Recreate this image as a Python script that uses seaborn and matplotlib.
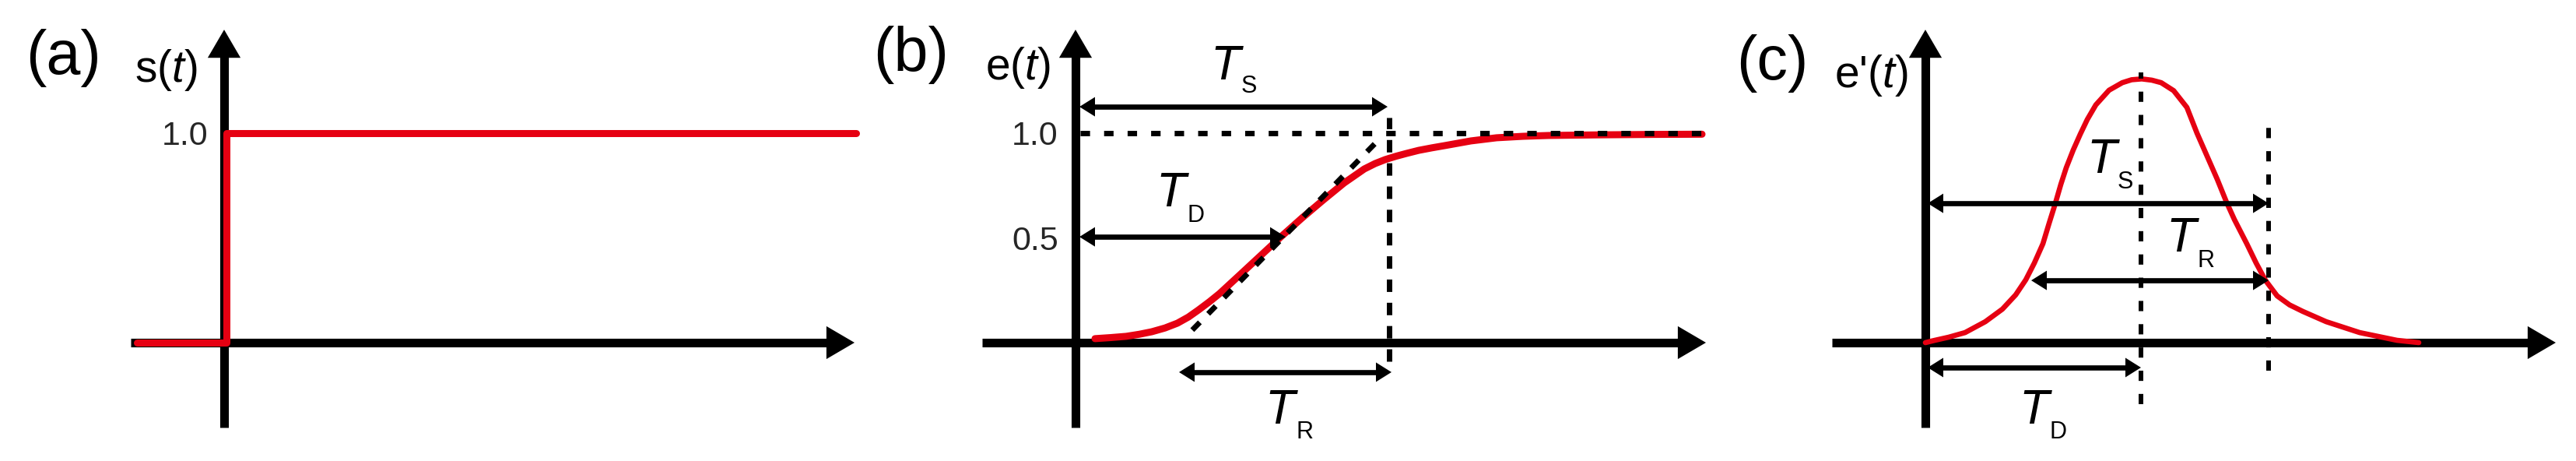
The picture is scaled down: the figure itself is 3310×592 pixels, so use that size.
import matplotlib
matplotlib.use("Agg")
import matplotlib.pyplot as plt
import seaborn as sns
import pandas as pd

# ---------------- data (t: time units, v: normalised response) ----------------
# (a) step input s(t)
step_t = [-1.12, 0.03, 0.03, 8.12]
step_v = [0.0, 0.0, 1.0, 1.0]

# (b) response e(t)
sig_t = [0.25, 0.45, 0.65, 0.82, 0.98, 1.15, 1.31, 1.45, 1.58, 1.72, 1.85, 2.11,
         2.38, 2.65, 2.91, 3.18, 3.45, 3.71, 3.85, 3.98, 4.12, 4.25, 4.41, 4.58,
         4.75, 5.08, 5.41, 5.75, 6.08, 6.75, 7.41, 8.05]
sig_v = [0.019, 0.024, 0.030, 0.040, 0.052, 0.070, 0.093, 0.122, 0.156, 0.195,
         0.234, 0.323, 0.416, 0.509, 0.595, 0.680, 0.762, 0.829, 0.855, 0.874,
         0.890, 0.903, 0.918, 0.930, 0.941, 0.963, 0.978, 0.985, 0.989, 0.992,
         0.994, 0.995]
tangent_t = [1.50, 3.86]
tangent_v = [0.06, 0.955]

# (c) derivative e'(t)
bell_t = [0.00, 0.12, 0.30, 0.51, 0.77, 0.99, 1.16, 1.29, 1.40, 1.51, 1.59, 1.67,
          1.74, 1.81, 1.90, 1.99, 2.08, 2.19, 2.36, 2.53, 2.65, 2.78, 2.91, 3.03,
          3.19, 3.36, 3.49, 3.62, 3.75, 3.87, 3.97, 4.13, 4.25, 4.37, 4.52, 4.68,
          4.85, 5.15, 5.58, 6.06, 6.34]
bell_v = [0.000, 0.011, 0.026, 0.048, 0.100, 0.160, 0.228, 0.300, 0.380, 0.472,
          0.570, 0.665, 0.755, 0.835, 0.920, 0.995, 1.065, 1.135, 1.205, 1.241,
          1.255, 1.259, 1.253, 1.241, 1.203, 1.123, 1.000, 0.890, 0.780, 0.670,
          0.588, 0.472, 0.380, 0.297, 0.223, 0.180, 0.149, 0.100, 0.048, 0.011,
          0.000]

# characteristic times / levels
b_TS, b_TD, b_TR = (0.05, 4.01), (0.05, 2.70), (1.33, 4.06)
b_TS_v, b_TD_v, b_TR_v = 1.126, 0.505, -0.141
b_level = 1.0
b_half = 0.5
b_settle_t = 4.03
c_TS, c_TR, c_TD = (0.03, 4.41), (1.36, 4.41), (0.03, 2.77)
c_TS_v, c_TR_v, c_TD_v = 0.665, 0.297, -0.119
c_peak_t, c_end_t = 2.77, 4.41

tick_labels_a = ["1.0"]
tick_labels_b = ["1.0", "0.5"]
panel_labels = ["(a)", "(b)", "(c)"]
axis_labels = ["s($\\mathit{t}$)", "e($\\mathit{t}$)", "e'($\\mathit{t}$)"]

# ---------------- style ----------------
sns.set_theme(style="white")
plt.rcParams["font.family"] = ["Liberation Sans", "DejaVu Sans"]
plt.rcParams["mathtext.fontset"] = "custom"
plt.rcParams["mathtext.rm"] = "Liberation Sans"
plt.rcParams["mathtext.it"] = "Liberation Sans:italic"

RED = "#e60012"
BLK = "black"
AX_LW = 8.0
AR_LW = 4.8
X_AXIS = (-1.20, 8.10)
Y_AXIS = (-0.405, 1.494)
YLIM = (-0.5651, 1.6357)

fig = plt.figure(figsize=(33.1, 5.92), dpi=100)
W = 3310.0
panels = [(0, 1110, 288), (1110, 2210, 1382), (2210, 3310, 2474)]
axes = []
for left, right, x0 in panels:
    ax = fig.add_axes([left / W, 0, (right - left) / W, 1])
    ax.set_xlim((left - x0) / 100.0, (right - x0) / 100.0)
    ax.set_ylim(*YLIM)
    ax.set_axis_off()
    axes.append(ax)


def draw_axes(ax):
    ax.plot([X_AXIS[0], X_AXIS[1] - 0.18], [0, 0], color=BLK, lw=AX_LW,
            solid_capstyle="butt", zorder=1)
    ax.plot([0, 0], [Y_AXIS[0], Y_AXIS[1] - 0.067], color=BLK, lw=AX_LW,
            solid_capstyle="butt", zorder=1)
    hp = dict(arrowstyle="-|>,head_length=1.3,head_width=0.76", mutation_scale=20,
              lw=0, color=BLK, shrinkA=0, shrinkB=0)
    ax.annotate("", xy=(X_AXIS[1], 0), xytext=(X_AXIS[1] - 0.6, 0),
                arrowprops=hp, zorder=1)
    ax.annotate("", xy=(0, Y_AXIS[1]), xytext=(0, Y_AXIS[1] - 0.3),
                arrowprops=hp, zorder=1)


def double_arrow(ax, t0, t1, v):
    ax.plot([t0 + 0.1, t1 - 0.1], [v, v], color=BLK, lw=AR_LW,
            solid_capstyle="butt", zorder=4)
    hp = dict(arrowstyle="<|-|>,head_length=0.72,head_width=0.45", mutation_scale=20,
              lw=0, color=BLK, shrinkA=0, shrinkB=0)
    ax.annotate("", xy=(t1, v), xytext=(t0, v), arrowprops=hp, zorder=4)


def tlabel(ax, tt, vt, ts, vs, sub):
    ax.text(tt, vt, "T", fontsize=45, fontstyle="italic", ha="left",
            va="baseline", color=BLK, zorder=5)
    ax.text(ts, vs, sub, fontsize=22, ha="left", va="baseline", color=BLK, zorder=5)


def vdash(ax, t, v0, v1, lw=5.0, pat=(2.3, 2.0)):
    ax.plot([t, t], [v0, v1], color=BLK, lw=lw, ls=(0, pat),
            dash_capstyle="butt", zorder=4)


for ax in axes:
    draw_axes(ax)

# panel labels
label_pos = [((-2.06, 1.357), (-0.75, 1.301)),
             ((-2.11, 1.374), (-0.745, 1.314)),
             ((-1.97, 1.331), (-0.70, 1.275))]
for ax, pl, al, (p1, p2) in zip(axes, panel_labels, axis_labels, label_pos):
    ax.text(*p1, pl, fontsize=57, ha="center", va="center", color=BLK)
    ax.text(*p2, al, fontsize=41, ha="center", va="center", color=BLK)

# ---------------- (a) ----------------
ax = axes[0]
sns.lineplot(data=pd.DataFrame({"t": step_t, "v": step_v}), x="t", y="v", ax=ax,
             sort=False, estimator=None, color=RED, lw=6.5, zorder=2)
ax.annotate(tick_labels_a[0], xy=(0, 1.0), xytext=(-14.5, -11),
            textcoords="offset points", fontsize=31, ha="right", va="baseline")

# ---------------- (b) ----------------
ax = axes[1]
sns.lineplot(data=pd.DataFrame({"t": sig_t, "v": sig_v}), x="t", y="v", ax=ax,
             sort=False, estimator=None, color=RED, lw=6.5, zorder=2)
ax.plot([0.06, 8.13], [b_level, b_level], color=BLK, lw=5.0, ls=(0, (1.75, 2.6)),
        dash_capstyle="butt", zorder=4)
ax.plot(tangent_t, tangent_v, color=BLK, lw=5.0, ls=(0, (2.0, 2.2)),
        dash_capstyle="butt", zorder=4)
vdash(ax, b_settle_t, -0.089, 1.074)
double_arrow(ax, *b_TS, b_TS_v)
double_arrow(ax, *b_TD, b_TD_v)
double_arrow(ax, *b_TR, b_TR_v)
tlabel(ax, 1.73, 1.257, 2.13, 1.193, "S")
tlabel(ax, 1.03, 0.651, 1.43, 0.576, "D")
tlabel(ax, 2.43, -0.387, 2.83, -0.457, "R")
for lab, lev in zip(tick_labels_b, [b_level, b_half]):
    ax.annotate(lab, xy=(0, lev), xytext=(-16, -11), textcoords="offset points",
                fontsize=31, ha="right", va="baseline")

# ---------------- (c) ----------------
ax = axes[2]
sns.lineplot(data=pd.DataFrame({"t": bell_t, "v": bell_v}), x="t", y="v", ax=ax,
             sort=False, estimator=None, color=RED, lw=4.8, zorder=2)
vdash(ax, c_peak_t, -0.294, 1.29, lw=4.3, pat=(2.2, 2.8))
vdash(ax, c_end_t, -0.134, 1.074, lw=4.3, pat=(2.2, 2.8))
double_arrow(ax, *c_TS, c_TS_v)
double_arrow(ax, *c_TR, c_TR_v)
double_arrow(ax, *c_TD, c_TD_v)
tlabel(ax, 2.07, 0.810, 2.47, 0.736, "S")
tlabel(ax, 3.09, 0.435, 3.49, 0.361, "R")
tlabel(ax, 1.20, -0.387, 1.60, -0.457, "D")

for ax in axes:
    ax.set_xlabel("")
    ax.set_ylabel("")

fig.savefig("out.png", dpi=100, facecolor="white")
